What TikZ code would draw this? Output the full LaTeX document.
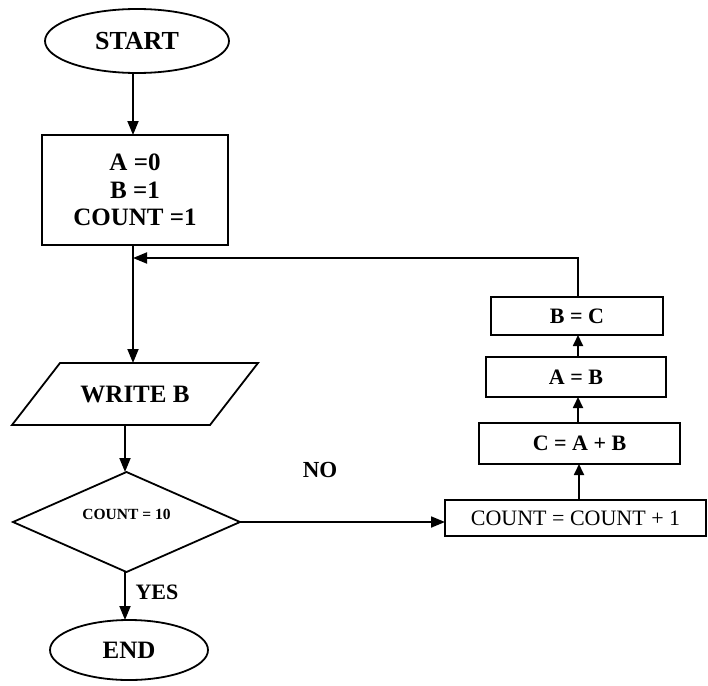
\documentclass[tikz,border=0pt]{standalone}
\usepackage{fontspec}
\setmainfont{Liberation Serif}
\usetikzlibrary{shapes.geometric,arrows.meta,calc}
\begin{document}
\begin{tikzpicture}[x=1pt,y=-1pt,
  every node/.style={inner sep=0pt,outer sep=0pt},
  edge/.style={line width=1.8pt},
  arr/.style={edge,-{Triangle[length=14pt,width=11pt]}},
  sarr/.style={edge,-{Triangle[length=11pt,width=10pt]}},
  shp/.style={draw,line width=1.8pt},
  big/.style={font=\fontsize{26}{27}\selectfont\bfseries},
  mid/.style={font=\fontsize{22}{25}\selectfont\bfseries},
  lbl/.style={font=\fontsize{22}{25}\selectfont\bfseries}]
\useasboundingbox (0,0) rectangle (708,685);
\fill[white] (0,0) rectangle (708,685);

\node[shp,ellipse,minimum width=184pt,minimum height=64pt,big] (start) at (137,41) {START};
\node[shp,rectangle,minimum width=186pt,minimum height=110pt,align=center,
  font=\fontsize{25}{27.5}\selectfont\bfseries] (init) at (135,190) {A =0\\B =1\\COUNT =1};
\coordinate (j) at (133,258);
\node[minimum width=246pt,minimum height=62pt,font=\fontsize{25}{27}\selectfont\bfseries] (write) at (135,394) {WRITE B};
\draw[shp] ($(write.north west)+(48,0)$) -- (write.north east)
  -- ($(write.south east)+(-48,0)$) -- (write.south west) -- cycle;
\node[shp,diamond,minimum width=227pt,minimum height=100pt,aspect=2.27,
  font=\fontsize{15.5}{17}\selectfont\bfseries] (dec) at (126.5,522) {\raisebox{16pt}{COUNT = 10}};
\node[shp,ellipse,minimum width=158pt,minimum height=60pt,font=\fontsize{25}{27}\selectfont\bfseries] (end) at (129,650) {END};
\node[lbl] (yes) at (157,592) {YES};
\node[font=\fontsize{23}{25}\selectfont\bfseries] (no) at (320,470) {NO};

\node[shp,rectangle,minimum width=261pt,minimum height=36pt,
  font=\fontsize{22}{25}\selectfont] (count) at (575.5,518) {COUNT = COUNT + 1};
\node[shp,rectangle,minimum width=201pt,minimum height=41pt,mid] (cab) at (579.5,443.5) {C = A + B};
\node[shp,rectangle,minimum width=180pt,minimum height=40pt,mid] (ab) at (576,377) {A = B};
\node[shp,rectangle,minimum width=172pt,minimum height=38pt,mid] (bc) at (577,316) {B = C};

\draw[arr] (start.south -| 133,0) -- (133,0 |- init.north);
\draw[edge] (133,0 |- init.south) -- (j);
\draw[arr] (j) -- (j |- write.north);
\draw[arr] (125,0 |- write.south) -- (125,0 |- dec.north);
\draw[arr] (dec.south -| 125,0) -- (125,0 |- end.north);
\draw[arr] (dec.east) -- (dec.east -| count.west);
\draw[sarr] (579,0 |- count.north) -- (579,0 |- cab.south);
\draw[sarr] (578,0 |- cab.north) -- (578,0 |- ab.south);
\draw[sarr] (578,0 |- ab.north) -- (578,0 |- bc.south);
\draw[arr] (bc.north -| 578,0) |- (j);
\end{tikzpicture}
\end{document}
